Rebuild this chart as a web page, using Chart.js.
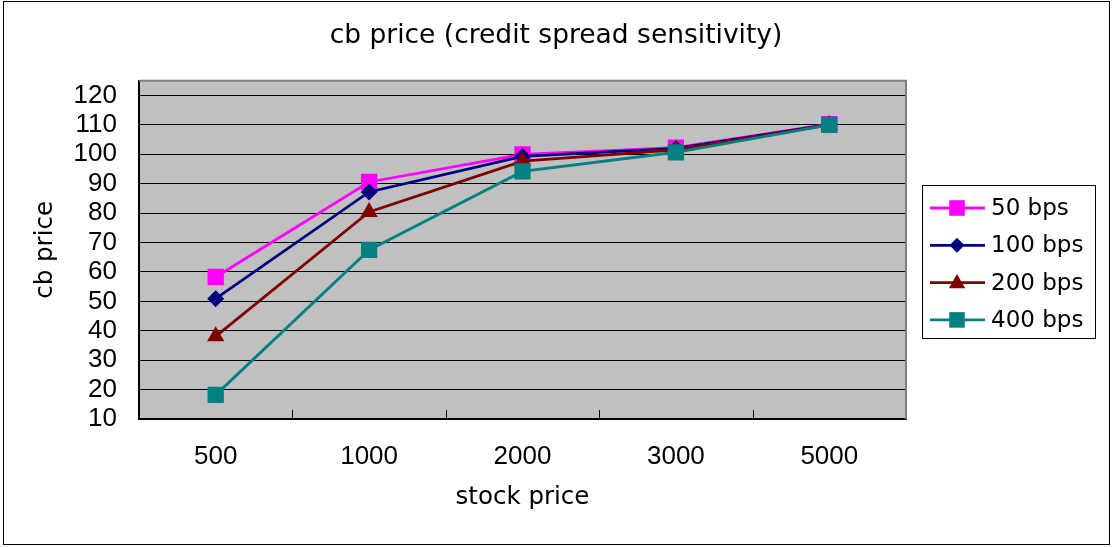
<!DOCTYPE html>
<html><head><meta charset="utf-8">
<script src="https://cdn.jsdelivr.net/npm/chart.js@4.4.1/dist/chart.umd.min.js"></script>
<style>
html,body{margin:0;padding:0;background:#fff;}
#wrap{position:relative;width:1112px;height:547px;overflow:hidden;}
#frame{position:absolute;left:3px;top:1px;width:1107px;height:544px;border:1px solid #000;box-sizing:border-box;}
canvas{position:absolute;left:0;top:0;}
</style></head><body>
<div id="wrap"><div id="frame"></div><canvas id="c" width="1112" height="547"></canvas></div>
<script>
const titleText = 'cb price (credit spread sensitivity)';
const xAxisTitle = 'stock price';
const yAxisTitle = 'cb price';
const stockPrices = ['500', '1000', '2000', '3000', '5000'];
const seriesNames = ['50 bps', '100 bps', '200 bps', '400 bps'];
const bps50  = [58.3, 90.6, 100.0, 102.3, 110.3];
const bps100 = [50.9, 87.2, 99.3, 102.0, 110.1];
const bps200 = [38.1, 80.4, 97.7, 101.5, 110.0];
const bps400 = [18.2, 67.5, 94.2, 100.7, 110.0];
const yMin = 10, yMax = 125, yStep = 10, yLastLabel = 120;

const seriesValues = [bps50, bps100, bps200, bps400];
const seriesColors = ['#FF00FF', '#000080', '#800000', '#008080'];
const seriesMarkers = ['rect', 'rectRot', 'triangle', 'rect'];
const markerRadius = [11.5, 8.5, 10, 11.5];

const plotStyle = {
  id: 'plotStyle',
  beforeDraw(chart) {
    const {ctx, chartArea: a} = chart;
    ctx.save();
    ctx.fillStyle = '#C0C0C0';
    ctx.fillRect(a.left, a.top, a.right - a.left, a.bottom - a.top);
    ctx.restore();
  },
  beforeDatasetsDraw(chart) {
    const {ctx, chartArea: a} = chart;
    const xs = chart.scales.x;
    ctx.save();
    ctx.strokeStyle = '#808080';
    ctx.lineWidth = 2;
    ctx.beginPath();
    ctx.moveTo(a.left, a.top);
    ctx.lineTo(a.right, a.top);
    ctx.lineTo(a.right, a.bottom);
    ctx.stroke();
    ctx.strokeStyle = '#000';
    ctx.lineWidth = 1;
    for (let i = 1; i < stockPrices.length; i++) {
      const x = Math.round((xs.getPixelForValue(i - 1) + xs.getPixelForValue(i)) / 2) + 0.5;
      ctx.beginPath();
      ctx.moveTo(x, a.bottom);
      ctx.lineTo(x, a.bottom - 9);
      ctx.stroke();
    }
    ctx.restore();
  }
};

function drawMarker(ctx, style, r, x, y, color) {
  ctx.fillStyle = color;
  ctx.beginPath();
  if (style === 'rect') {
    const s = r * Math.SQRT1_2;
    ctx.rect(x - s, y - s, 2 * s, 2 * s);
  } else if (style === 'rectRot') {
    ctx.moveTo(x - r, y); ctx.lineTo(x, y - r); ctx.lineTo(x + r, y); ctx.lineTo(x, y + r); ctx.closePath();
  } else {
    ctx.moveTo(x, y - r);
    ctx.lineTo(x + Math.sin(2 * Math.PI / 3) * r, y + r / 2);
    ctx.lineTo(x - Math.sin(2 * Math.PI / 3) * r, y + r / 2);
    ctx.closePath();
  }
  ctx.fill();
}

const boxLegend = {
  id: 'boxLegend',
  afterDraw(chart) {
    const ctx = chart.ctx;
    ctx.save();
    ctx.strokeStyle = '#000';
    ctx.lineWidth = 1;
    ctx.strokeRect(922.5, 185.5, 173, 153);
    ctx.font = '23px "DejaVu Sans"';
    ctx.textBaseline = 'middle';
    ctx.textAlign = 'left';
    chart.data.datasets.forEach((ds, i) => {
      const y = 208 + i * 37.3;
      ctx.strokeStyle = ds.borderColor;
      ctx.lineWidth = 2.8;
      ctx.beginPath();
      ctx.moveTo(930, y);
      ctx.lineTo(985, y);
      ctx.stroke();
      const r = ds.pointStyle === 'rectRot' ? 7.5 : (ds.pointStyle === 'triangle' ? 9.5 : 11);
      drawMarker(ctx, ds.pointStyle, r, 957, ds.pointStyle === 'triangle' ? y + 1 : y, ds.borderColor);
      ctx.fillStyle = '#000';
      ctx.fillText(ds.label, 991, y + 1);
    });
    ctx.restore();
  }
};

const datasets = seriesNames.map((name, i) => ({
  label: name,
  data: seriesValues[i],
  borderColor: seriesColors[i],
  backgroundColor: seriesColors[i],
  borderWidth: 2.8,
  pointStyle: seriesMarkers[i],
  pointRadius: markerRadius[i],
  pointHoverRadius: markerRadius[i],
  pointBorderWidth: 0,
  tension: 0,
  fill: false,
  yAxisID: 'y',
  order: seriesNames.length - 1 - i
}));

new Chart(document.getElementById('c'), {
  type: 'line',
  data: { labels: stockPrices, datasets },
  plugins: [plotStyle, boxLegend],
  options: {
    responsive: false,
    animation: false,
    devicePixelRatio: 1,
    layout: { padding: 0 },
    plugins: {
      legend: { display: false },
      tooltip: { enabled: false },
      title: {
        display: true,
        text: titleText,
        color: '#000',
        font: { family: '"DejaVu Sans"', size: 26.5, weight: 'normal', lineHeight: 1.2 },
        padding: { top: 20, bottom: 29 }
      }
    },
    scales: {
      x: {
        type: 'category',
        offset: true,
        afterFit(scale) { scale.height = 128; },
        grid: { display: true, drawOnChartArea: false, drawTicks: false },
        border: { display: true, color: '#000', width: 2 },
        ticks: { color: '#000', padding: 22, maxRotation: 0, autoSkip: false,
          font: { family: '"Liberation Sans"', size: 26 } },
        title: { display: true, text: xAxisTitle, color: '#000',
          font: { family: '"DejaVu Sans"', size: 24.5, lineHeight: 1.2 },
          padding: { top: 0, bottom: 35 } }
      },
      y: {
        position: 'left',
        min: yMin, max: yMax,
        afterFit(scale) { scale.width = 139; },
        afterBuildTicks(scale) { scale.ticks = scale.ticks.filter(t => t.value <= yLastLabel); },
        grid: { color: '#000', lineWidth: 1, drawTicks: false },
        border: { display: true, color: '#000', width: 2 },
        ticks: { stepSize: yStep, includeBounds: false, autoSkip: false, color: '#000', padding: 22,
          font: { family: '"Liberation Sans"', size: 26 } },
        title: { display: true, text: yAxisTitle, color: '#000',
          font: { family: '"DejaVu Sans"', size: 24.5, lineHeight: 1.2 },
          padding: { top: 31, bottom: 0 } }
      },
      legendSpace: {
        type: 'linear',
        position: 'right',
        min: yMin, max: yMax,
        afterFit(scale) { scale.width = 206; },
        grid: { display: false, drawTicks: false },
        border: { display: false },
        ticks: { display: false }
      }
    }
  }
});
</script>
</body></html>
